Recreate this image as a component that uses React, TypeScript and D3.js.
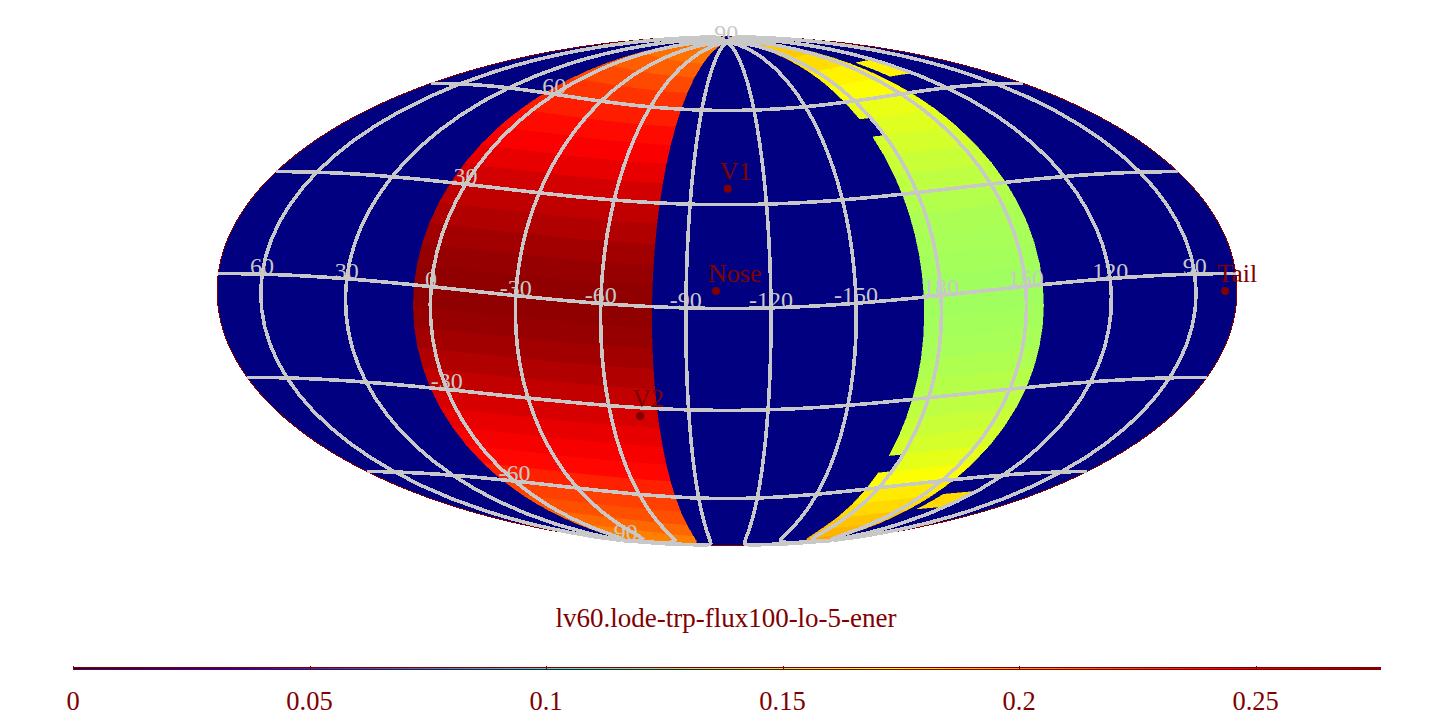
import React from "react";
import * as d3 from "d3";

const W = 1452, H = 728;
const colorMax = 0.2763;
const latEdges = d3.range(-90, 90, 6);
// left band: ecliptic lon -78..6, rows south to north (6 deg)
const leftValues = [0.205,0.207,0.2137,0.220,0.2245,0.233,0.240,0.244,0.248,0.253,0.258,0.263,0.267,0.270,0.272,
  0.272,0.270,0.267,0.263,0.259,0.254,0.248,0.243,0.239,0.234,0.228,0.222,0.216,0.211,0.207];
// right band, rows south to north
const rightValues = [0.196,0.193,0.189,0.183,0.178,0.172,0.166,0.161,0.158,0.155,0.153,0.151,0.149,0.148,0.147,
  0.147,0.148,0.149,0.150,0.152,0.155,0.158,0.161,0.164,0.167,0.172,0.176,0.182,0.187,0.192];
const rightDefault: number[][] = [[144, 186]];
const rightSpecial: Record<number, number[][]> = {
  [-72]: [[122, 138], [144, 186]],
  [-54]: [[144, 180]],
  [48]: [[144, 180]],
  [66]: [[122, 138], [144, 186]],
};
const lonTicks = [60, 30, 0, -30, -60, -90, -120, -150, 180, 150, 120, 90];
const latTicks = [90, 60, 30, -30, -60, -90];
const markerNames = ["V1", "V2", "Nose", "Tail"];
const markerLon = [255.2, 288.7, 259.4, 79.7];
const markerLat = [34.8, -32.6, 5.0, -5.0];
const barTicks = [0, 0.05, 0.1, 0.15, 0.2, 0.25];
const title = "lv60.lode-trp-flux100-lo-5-ener";

function mollweideRaw(l: number, p: number): [number, number] {
  let t = p;
  const target = Math.PI * Math.sin(p);
  if (Math.abs(Math.abs(p) - Math.PI / 2) < 1e-6) {
    t = p;
  } else {
    for (let i = 0; i < 50; i++) {
      const d = (2 * t + Math.sin(2 * t) - target) / (2 + 2 * Math.cos(2 * t));
      t -= d;
      if (Math.abs(d) < 1e-8) break;
    }
  }
  return [(2 * Math.SQRT2 / Math.PI) * l * Math.cos(t), Math.SQRT2 * Math.sin(t)];
}

const jetStops = [0, 0.125, 0.375, 0.625, 0.875, 1];
const jetColors = ["#000080", "#0000ff", "#00ffff", "#ffff00", "#ff0000", "#800000"];
const jet = d3.scaleLinear<string>().domain(jetStops.map((d) => d * colorMax)).range(jetColors).clamp(true);

const projection = d3
  .geoProjection(mollweideRaw)
  .scale(510 / (2 * Math.SQRT2))
  .translate([727, 291])
  .rotate([-255.5, -5, 0])
  .reflectX(true)
  .precision(0.3);
const path = d3.geoPath(projection);

function cell(lat0: number, lat1: number, lon0: number, lon1: number) {
  const a = Math.max(lat0, -89.9), b = Math.min(lat1, 89.9);
  const ring: number[][] = [];
  const n = Math.max(2, Math.ceil((lon1 - lon0) / 2));
  for (let i = 0; i <= n; i++) ring.push([lon0 + ((lon1 - lon0) * i) / n, b]);
  for (let i = 0; i <= n; i++) ring.push([lon1 - ((lon1 - lon0) * i) / n, a]);
  ring.push(ring[0]);
  return { type: "Polygon", coordinates: [ring] } as any;
}

function meridian(lon: number) {
  return { type: "LineString", coordinates: d3.range(-90, 90.01, 5).map((la) => [lon, Math.max(-89.99, Math.min(89.99, la))]) } as any;
}
function parallel(lat: number) {
  return { type: "LineString", coordinates: d3.range(-180, 180.01, 4).map((lo) => [lo, lat]) } as any;
}

const serif = "'Liberation Serif','Times New Roman',serif";
const GREY = "#c8c8c8";
const MAROON = "#800000";

export default function App() {
  const barX = d3.scaleLinear().domain([0, colorMax]).range([73, 1380]);
  const barSteps = d3.range(0, colorMax, colorMax / 500);
  return (
    <svg width={W} height={H} viewBox={`0 0 ${W} ${H}`} style={{ position: "absolute", left: 0, top: 0, background: "#fff" }}>
      <g shapeRendering="crispEdges">
        <path d={path({ type: "Sphere" } as any) || ""} fill="#000080" stroke={MAROON} strokeWidth={1} />
        {latEdges.map((la, i) => (
          <path key={"l" + la} d={path(cell(la, la + 6, -78, 6)) || ""} fill={jet(leftValues[i])} stroke={jet(leftValues[i])} strokeWidth={0.5} />
        ))}
        {latEdges.map((la, i) =>
          (rightSpecial[la] || rightDefault).map((r, j) => (
            <path key={"r" + la + j} d={path(cell(la, la + 6, r[0], r[1])) || ""} fill={jet(rightValues[i])} stroke={jet(rightValues[i])} strokeWidth={0.5} />
          ))
        )}
        {d3.range(-180, 180, 30).map((lo) => (
          <path key={"m" + lo} d={path(meridian(lo)) || ""} fill="none" stroke={GREY} strokeWidth={3.6} />
        ))}
        {d3.range(-60, 61, 30).map((la) => (
          <path key={"p" + la} d={path(parallel(la)) || ""} fill="none" stroke={GREY} strokeWidth={3.6} />
        ))}
      </g>
      <g fontFamily={serif} fontSize={24} fill={GREY} textAnchor="middle">
        {lonTicks.map((lo) => {
          const p = projection([lo, 0]) as [number, number];
          return <text key={"tl" + lo} x={p[0]} y={p[1]}>{lo}</text>;
        })}
        {latTicks.map((la) => {
          const p = projection([0, Math.max(-89.9, Math.min(89.9, la))]) as [number, number];
          return <text key={"tla" + la} x={p[0]} y={p[1]}>{la}</text>;
        })}
      </g>
      <g fontFamily={serif} fontSize={26} fill={MAROON}>
        {markerNames.map((n, i) => {
          const p = projection([markerLon[i], markerLat[i]]) as [number, number];
          return (
            <g key={n}>
              <circle cx={p[0]} cy={p[1]} r={4} />
              <text x={p[0] - 8} y={p[1] - 9}>{n}</text>
            </g>
          );
        })}
      </g>
      <text x={726} y={627} fontFamily={serif} fontSize={27} fill={MAROON} textAnchor="middle">{title}</text>
      <g shapeRendering="crispEdges">
        {barSteps.map((v) => (
          <rect key={v} x={barX(v)} y={667} width={4} height={3} fill={jet(v)} />
        ))}
        <rect x={73} y={667} width={1307} height={1} fill={MAROON} />
        <rect x={73} y={669} width={1307} height={1} fill={MAROON} />
        {barTicks.map((t) => (
          <rect key={t} x={barX(t)} y={666} width={1} height={4} fill={MAROON} />
        ))}
      </g>
      <g fontFamily={serif} fontSize={26.5} fill={MAROON} textAnchor="middle">
        {barTicks.map((t) => (
          <text key={t} x={barX(t)} y={710}>{t}</text>
        ))}
      </g>
    </svg>
  );
}
